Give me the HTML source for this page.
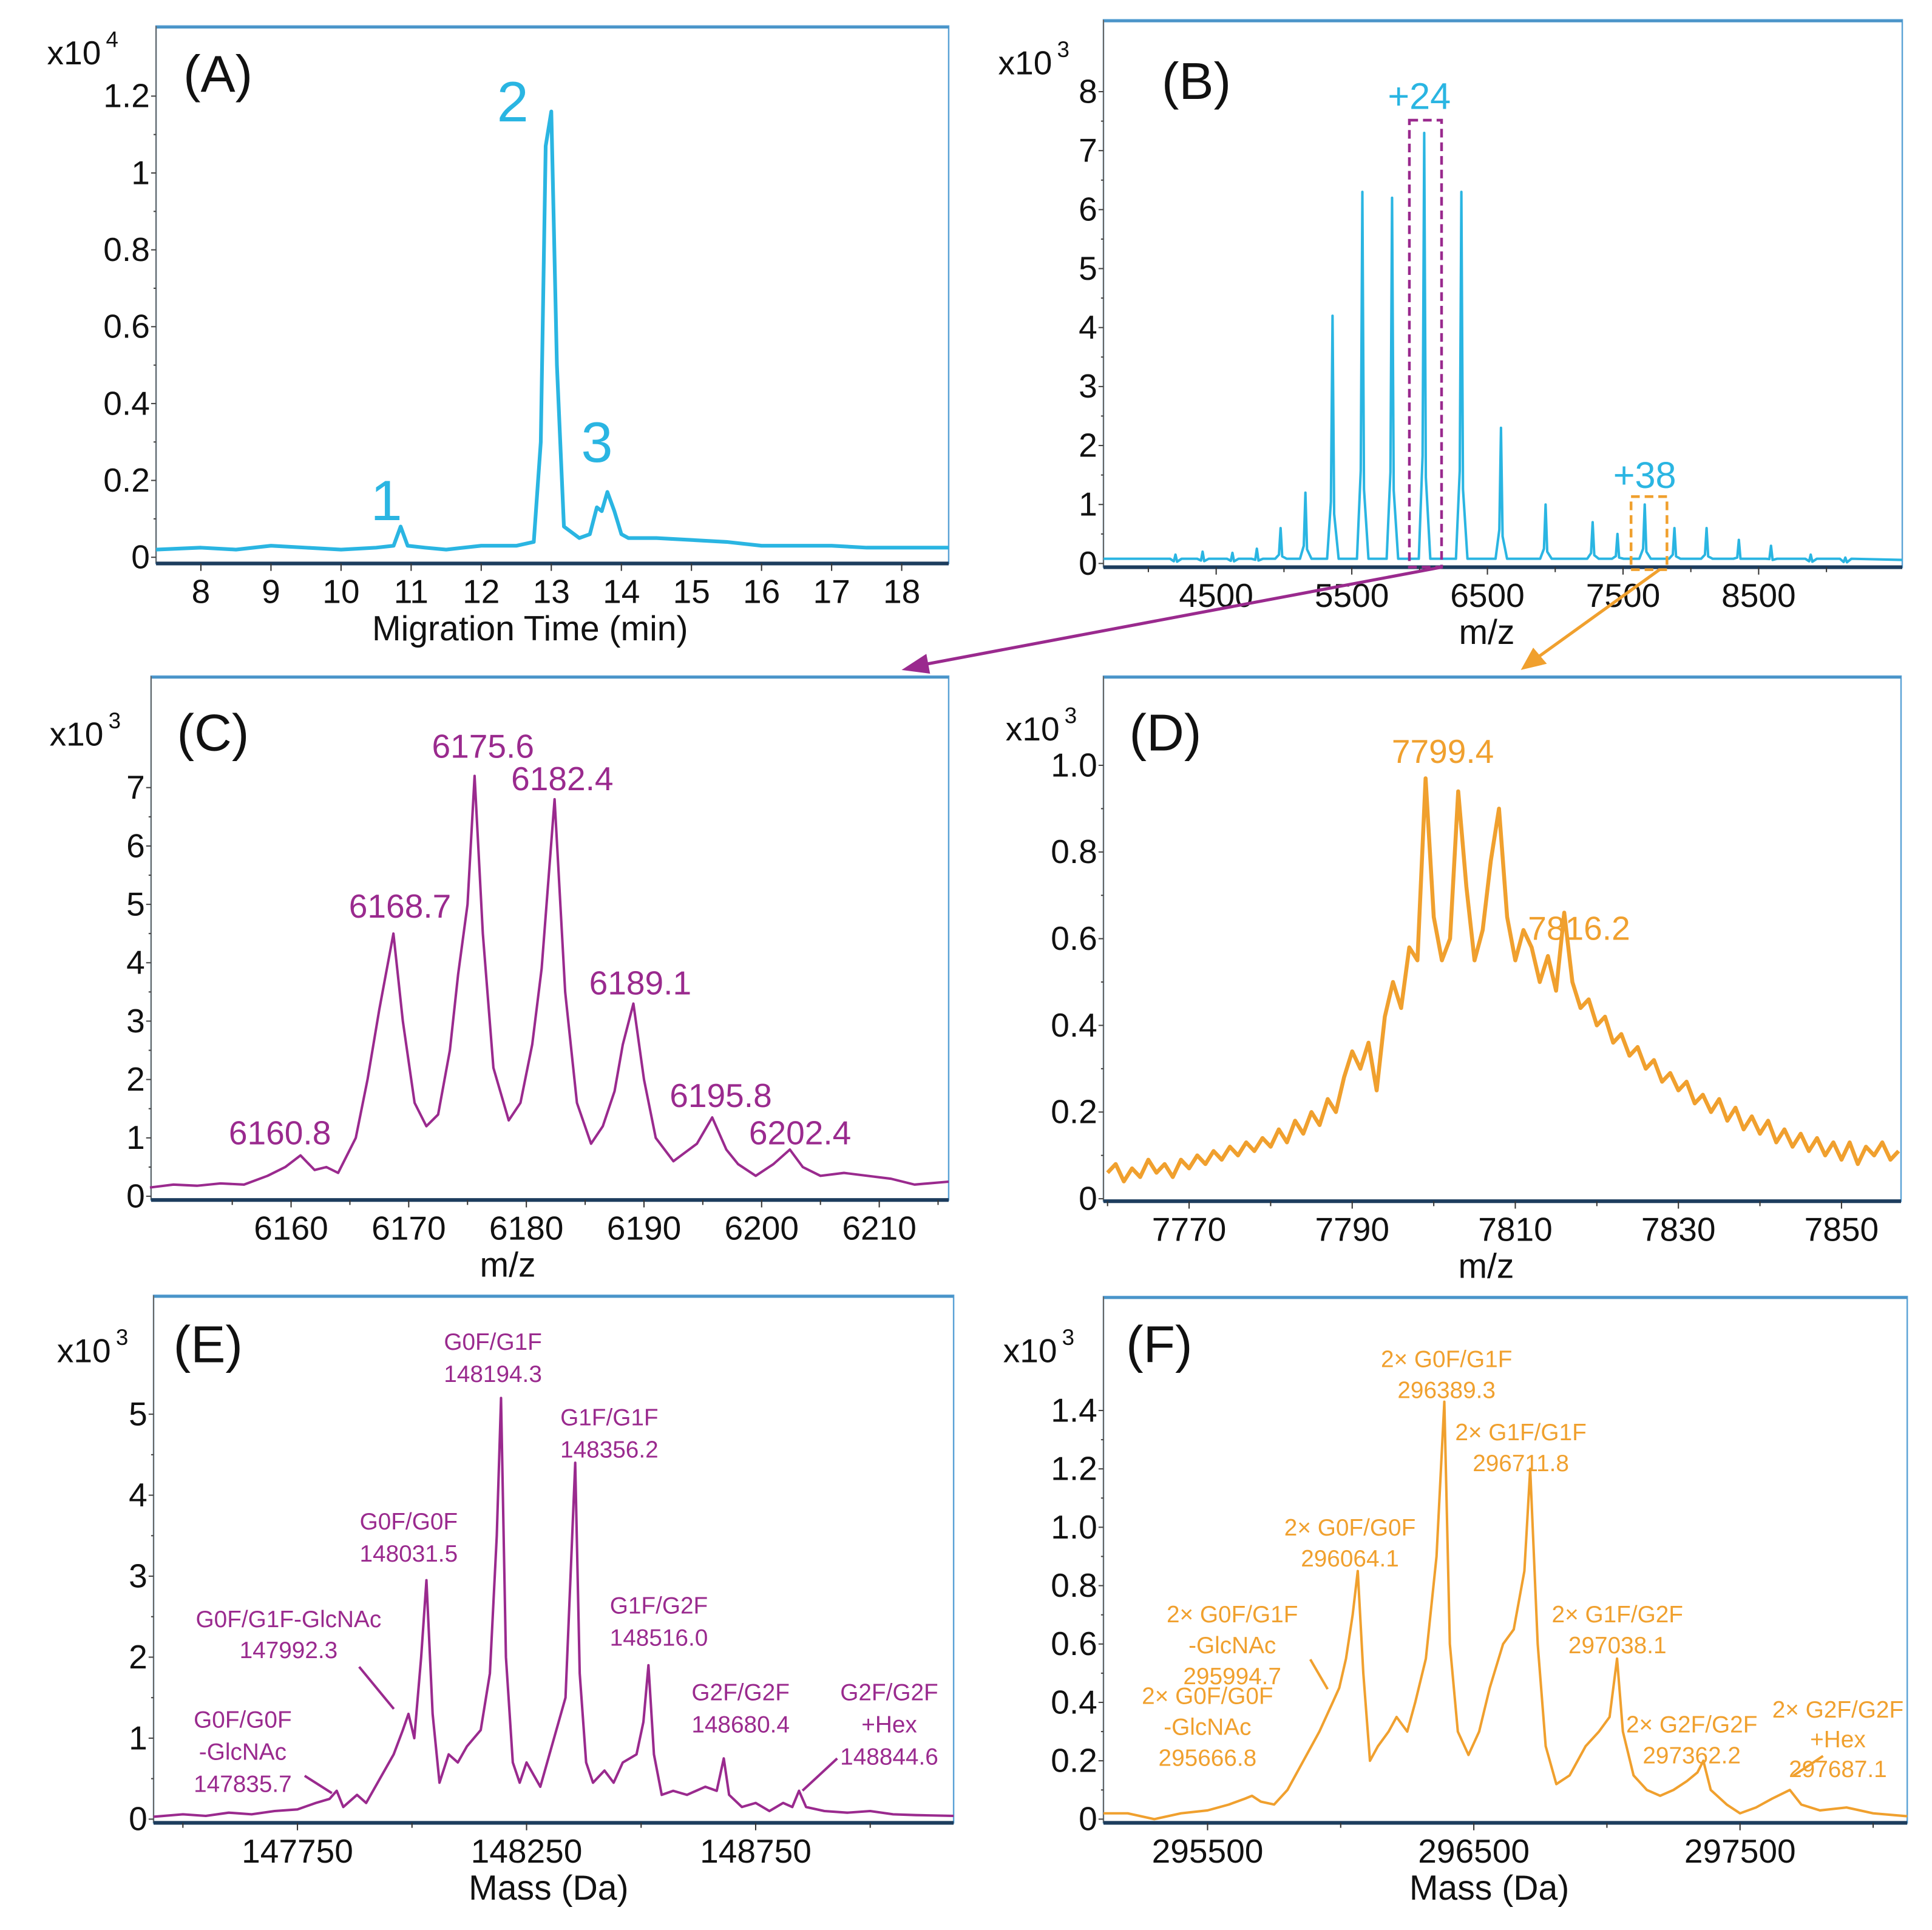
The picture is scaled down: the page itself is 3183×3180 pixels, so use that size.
<!DOCTYPE html>
<html><head><meta charset="utf-8"><style>
html,body{margin:0;padding:0;background:#fff;}
svg{display:block;font-family:"Liberation Sans",sans-serif;}
</style></head><body>
<svg id="fig" width="3183" height="3180" viewBox="0 0 1560 1558.5" xmlns="http://www.w3.org/2000/svg">
<rect width="1560" height="1558.5" fill="#fff"/>
</svg>
<script>
// ---- Panel A data ----
const aTime = [7.36,8,8.5,9,9.5,10,10.5,10.75,10.85,10.95,11.2,11.5,12,12.5,12.75,12.85,12.92,13.0,13.08,13.18,13.4,13.55,13.65,13.72,13.8,13.9,14,14.1,14.5,15,15.5,16,16.5,17,17.5,18,18.67];
const aSignal = [0.02,0.025,0.02,0.03,0.025,0.02,0.025,0.03,0.08,0.03,0.025,0.02,0.03,0.03,0.04,0.3,1.07,1.16,0.5,0.08,0.05,0.06,0.13,0.12,0.17,0.12,0.06,0.05,0.05,0.045,0.04,0.03,0.03,0.03,0.025,0.025,0.025];
const aYTicks = [0,0.2,0.4,0.6,0.8,1,1.2];
const aYTickLabels = ["0","0.2","0.4","0.6","0.8","1","1.2"];
const aXTicks = [8,9,10,11,12,13,14,15,16,17,18];
// ---- Panel B data ----
const bPeakMz = [4200,4400,4620,4800,4975,5158,5358,5578,5797,6034,6308,6600,6929,7276,7459,7660,7879,8116,8354,8591,8884,9139];
const bPeakInt = [0.15,0.2,0.18,0.25,0.6,1.2,4.2,6.3,6.2,7.3,6.3,2.3,1.0,0.7,0.5,1.0,0.6,0.6,0.4,0.3,0.15,0.1];
const bYTicks = [0,1,2,3,4,5,6,7,8];
const bXTicks = [4500,5500,6500,7500,8500];
// ---- Panel C data ----
const cMz = [6148,6150,6152,6154,6156,6158,6159.5,6160.8,6162,6163,6164,6165.5,6166.5,6167.5,6168.7,6169.5,6170.5,6171.5,6172.5,6173.5,6174.2,6175,6175.6,6176.3,6177.2,6178.5,6179.5,6180.5,6181.3,6182.4,6183.3,6184.3,6185.5,6186.5,6187.5,6188.2,6189.1,6190,6191,6192.5,6193.5,6194.5,6195.8,6197,6198,6199.5,6201,6202.4,6203.5,6205,6207,6209,6211,6213,6215.9];
const cInt = [0.15,0.2,0.18,0.22,0.2,0.35,0.5,0.7,0.45,0.5,0.4,1.0,2.0,3.2,4.5,3.0,1.6,1.2,1.4,2.5,3.8,5.0,7.2,4.5,2.2,1.3,1.6,2.6,3.9,6.8,3.5,1.6,0.9,1.2,1.8,2.6,3.3,2.0,1.0,0.6,0.75,0.9,1.35,0.8,0.55,0.35,0.55,0.8,0.5,0.35,0.4,0.35,0.3,0.2,0.25];
const cYTicks = [0,1,2,3,4,5,6,7];
const cXTicks = [6160,6170,6180,6190,6200,6210];
// ---- Panel D data (m/z 7760..7857 step 1) ----
const dStart = 7760;
const dInt = [.06,.08,.04,.07,.05,.09,.06,.08,.05,.09,
.07,.10,.08,.11,.09,.12,.10,.13,.11,.14,
.12,.16,.13,.18,.15,.20,.17,.23,.20,.28,
.34,.30,.36,.25,.42,.50,.44,.58,.55,.97,
.65,.55,.60,.94,.72,.55,.62,.78,.90,.65,
.55,.62,.58,.50,.56,.48,.66,.50,.44,.46,
.40,.42,.36,.38,.33,.35,.30,.32,.27,.29,
.25,.27,.22,.24,.20,.23,.18,.21,.16,.19,
.15,.18,.13,.16,.12,.15,.11,.14,.10,.13,
.09,.13,.08,.12,.10,.13,.09,.11];
const dYTicks = [0,0.2,0.4,0.6,0.8,1.0];
const dYTickLabels = ["0","0.2","0.4","0.6","0.8","1.0"];
const dXTicks = [7770,7790,7810,7830,7850];
// ---- Panel E data ----
const eMass = [147436,147500,147550,147600,147650,147700,147750,147790,147820,147835.7,147850,147880,147900,147930,147960,147980,147992.3,148005,148020,148031.5,148045,148060,148080,148100,148120,148150,148170,148185,148194.3,148205,148220,148235,148250,148265,148280,148300,148320,148335,148346,148356.2,148366,148380,148395,148420,148440,148460,148490,148505,148516,148528,148545,148570,148600,148640,148665,148680.4,148692,148720,148750,148780,148810,148830,148844.6,148860,148900,148950,149000,149050,149100,149182];
const eInt = [0.03,0.06,0.04,0.08,0.06,0.1,0.12,0.2,0.25,0.35,0.15,0.3,0.2,0.5,0.8,1.1,1.3,1.0,2.0,2.95,1.3,0.45,0.8,0.7,0.9,1.1,1.8,3.5,5.2,2.0,0.7,0.45,0.7,0.55,0.4,0.8,1.2,1.5,3.0,4.4,1.8,0.7,0.45,0.6,0.45,0.7,0.8,1.2,1.9,0.8,0.3,0.35,0.3,0.4,0.35,0.75,0.3,0.15,0.2,0.1,0.2,0.15,0.35,0.15,0.1,0.08,0.1,0.06,0.05,0.04];
const eYTicks = [0,1,2,3,4,5];
const eXTicks = [147750,148250,148750];
// ---- Panel F data ----
const fMass = [295109,295200,295300,295400,295500,295580,295640,295666.8,295700,295750,295800,295860,295920,295970,295994.7,296020,296045,296064.1,296085,296110,296140,296180,296210,296250,296280,296320,296360,296389.3,296410,296440,296480,296520,296560,296610,296650,296690,296711.8,296740,296770,296810,296860,296920,296970,297010,297038.1,297060,297100,297150,297200,297250,297300,297340,297362.2,297390,297450,297500,297560,297620,297687.1,297730,297800,297900,298000,298128];
const fInt = [0.02,0.02,0.0,0.02,0.03,0.05,0.07,0.08,0.06,0.05,0.1,0.2,0.3,0.4,0.45,0.55,0.7,0.85,0.5,0.2,0.25,0.3,0.35,0.3,0.4,0.55,0.9,1.43,0.6,0.3,0.22,0.3,0.45,0.6,0.65,0.85,1.2,0.6,0.25,0.12,0.15,0.25,0.3,0.35,0.55,0.3,0.15,0.1,0.08,0.1,0.13,0.16,0.2,0.1,0.05,0.02,0.04,0.07,0.1,0.05,0.03,0.04,0.02,0.01];
const fYTicks = [0,0.2,0.4,0.6,0.8,1.0,1.2,1.4];
const fYTickLabels = ["0","0.2","0.4","0.6","0.8","1.0","1.2","1.4"];
const fXTicks = [295500,296500,297500];

const NS = "http://www.w3.org/2000/svg";
const svg = document.getElementById("fig");
function mk(tag, attrs, parent) {
  const e = document.createElementNS(NS, tag);
  for (const k in attrs) e.setAttribute(k, attrs[k]);
  (parent || svg).appendChild(e);
  return e;
}
function txt(s, x, y, size, fill, anchor, parent) {
  const t = mk("text", {x: x, y: y, "font-size": size, fill: fill, "text-anchor": anchor || "middle"}, parent);
  t.textContent = s;
  return t;
}
const CYAN = "#2ab5e2", MAG = "#9a2a8e", ORG = "#f0a02e";

function panel(cfg) {
  const g = mk("g", {});
  
  
  const sx = v => cfg.L + (v - cfg.x0) / (cfg.x1 - cfg.x0) * (cfg.R - cfg.L);
  const sy = v => cfg.y0px + (v - 0) * (cfg.ytop - cfg.y0px) / cfg.yTopVal;
  cfg.sx = sx; cfg.sy = sy;
  const fr = mk("rect", {x: cfg.L, y: cfg.T, width: cfg.R - cfg.L, height: cfg.B - cfg.T, fill: "none", stroke: "#5aa2d6", "stroke-width": 1.2}, g);
  
  
  mk("line", {x1: cfg.L, y1: cfg.T + 1, x2: cfg.R, y2: cfg.T + 1, stroke: "#4a94c8", "stroke-width": 2}, g);
  const ya = mk("line", {x1: cfg.L, y1: cfg.T, x2: cfg.L, y2: cfg.B, stroke: "#666", "stroke-width": 1}, g);
  
  
  cfg.yTicks.forEach((v, i) => {
    const y = sy(v);
    mk("line", {x1: cfg.L - 4, y1: y, x2: cfg.L, y2: y, stroke: "#444", "stroke-width": 1}, g);
    if (i < cfg.yTicks.length - 1) {
      const ym = sy((v + cfg.yTicks[i + 1]) / 2);
      mk("line", {x1: cfg.L - 2, y1: ym, x2: cfg.L, y2: ym, stroke: "#444", "stroke-width": 1}, g);
    }
    const t = txt(cfg.yLabels ? cfg.yLabels[i] : String(v), cfg.L - 5, y + 9, 27, "#111", "end", g);
    
    
  });
  const xa = mk("line", {x1: cfg.L, y1: cfg.B, x2: cfg.R, y2: cfg.B, stroke: "#1d3d5e", "stroke-width": 3}, g);
  
  
  cfg.xTicks.forEach(v => {
    const x = sx(v);
    mk("line", {x1: x, y1: cfg.B, x2: x, y2: cfg.B + 6, stroke: "#333", "stroke-width": 1}, g);
    const t = txt(String(v), x, cfg.B + 32, 27, "#111", "middle", g);
    
    
  });
  if (cfg.xMinor) cfg.xMinor.forEach(v => {
    const x = sx(v);
    mk("line", {x1: x, y1: cfg.B, x2: x, y2: cfg.B + 4, stroke: "#333", "stroke-width": 1}, g);
  });
  const xt = txt(cfg.xTitle, (cfg.L + cfg.R) / 2 + (cfg.xTitleDx || 0), cfg.B + 62, 28, "#111", "middle", g);
  
  
  const pl = txt(cfg.letter, cfg.letterX, cfg.letterY, 42, "#111", "middle", g);
  
  
  const m = mk("text", {x: cfg.multX, y: cfg.multY, "font-size": 27, fill: "#111"}, g);
  
  
  m.textContent = "x10";
  const sup = mk("tspan", {dx: 4, dy: -14, "font-size": 18}, m);
  sup.textContent = cfg.exp;
  return g;
}
function trace(cfg, xs, ys, color, sw, name) {
  const pts = xs.map((x, i) => cfg.sx(x).toFixed(2) + "," + cfg.sy(ys[i]).toFixed(2)).join(" ");
  const p = mk("polyline", {points: pts, fill: "none", stroke: color, "stroke-width": sw, "stroke-linejoin": "round"});
  
  
  return p;
}
function ann(lines, x, y, size, color, lh) {
  lines.forEach((s, i) => {
    const t = txt(s, x, y + i * lh, size, color, "middle");
    
    
  });
}
function leader(x1, y1, x2, y2, color) {
  const l = mk("line", {x1: x1, y1: y1, x2: x2, y2: y2, stroke: color, "stroke-width": 2});
  
  
}

const A = {name: "panel-a", L: 126, R: 766, T: 21, B: 455, x0: 7.36, x1: 18.67, y0px: 450, ytop: 77.6, yTopVal: 1.2,
  yTicks: aYTicks, yLabels: aYTickLabels, xTicks: aXTicks, xTitle: "Migration Time (min)", xTitleDx: -18,
  letter: "(A)", letterX: 176, letterY: 74, multX: 38, multY: 52, exp: "4"};
panel(A);
trace(A, aTime, aSignal, CYAN, 3, "electropherogram-trace");
txt("1", 312, 420, 46, CYAN);
txt("2", 414, 98, 46, CYAN);
txt("3", 482, 373, 46, CYAN);

const Bp = {name: "panel-b", L: 891, R: 1536, T: 16, B: 458, x0: 3669, x1: 9559, y0px: 455, ytop: 74, yTopVal: 8,
  yTicks: bYTicks, xTicks: bXTicks, xMinor: [4000,5000,6000,7000,8000,9000], xTitle: "m/z", xTitleDx: -13,
  letter: "(B)", letterX: 966, letterY: 80, multX: 806, multY: 60, exp: "3"};
panel(Bp);
(function () {
  const xs = [3669], ys = [0.08];
  bPeakMz.forEach((m, i) => {
    xs.push(m - 40, m - 12, m, m + 12, m + 45);
    ys.push(0.08, bPeakInt[i] * 0.25, bPeakInt[i], bPeakInt[i] * 0.2, 0.08);
  });
  xs.push(9559); ys.push(0.06);
  trace(Bp, xs, ys, CYAN, 2, "mass-spectrum-trace");
})();
mk("rect", {x: 1138, y: 97, width: 26, height: 361, fill: "none", stroke: MAG, "stroke-width": 2.2, "stroke-dasharray": "7,4"});
mk("rect", {x: 1317, y: 401, width: 29, height: 59, fill: "none", stroke: ORG, "stroke-width": 2.2, "stroke-dasharray": "7,4"});
txt("+24", 1146, 88, 30, CYAN);
txt("+38", 1328, 394, 30, CYAN);
mk("line", {x1: 1164, y1: 458, x2: 744, y2: 537, stroke: MAG, "stroke-width": 2.5});
mk("polygon", {points: "728,541 748,528 751,544", fill: MAG});
mk("line", {x1: 1340, y1: 460, x2: 1240, y2: 532, stroke: ORG, "stroke-width": 2.5});
mk("polygon", {points: "1228,541 1238,523 1249,536", fill: ORG});

const Cp = {name: "panel-c", L: 122, R: 766, T: 546, B: 969, x0: 6148.1, x1: 6215.9, y0px: 966, ytop: 636, yTopVal: 7,
  yTicks: cYTicks, xTicks: cXTicks, xMinor: [6155,6165,6175,6185,6195,6205,6215], xTitle: "m/z", xTitleDx: -34,
  letter: "(C)", letterX: 172, letterY: 606, multX: 40, multY: 602, exp: "3"};
panel(Cp);
trace(Cp, cMz, cInt, MAG, 2, "charge-24-trace");
ann(["6175.6"], 390, 612, 27, MAG, 0);
ann(["6182.4"], 454, 638, 27, MAG, 0);
ann(["6168.7"], 323, 741, 27, MAG, 0);
ann(["6189.1"], 517, 803, 27, MAG, 0);
ann(["6160.8"], 226, 924, 27, MAG, 0);
ann(["6195.8"], 582, 894, 27, MAG, 0);
ann(["6202.4"], 646, 924, 27, MAG, 0);

const Dp = {name: "panel-d", L: 891, R: 1535, T: 546, B: 970, x0: 7759.5, x1: 7857.3, y0px: 968, ytop: 618, yTopVal: 1.0,
  yTicks: dYTicks, yLabels: dYTickLabels, xTicks: dXTicks, xMinor: [7760,7780,7800,7820,7840], xTitle: "m/z", xTitleDx: -13,
  letter: "(D)", letterX: 941, letterY: 606, multX: 812, multY: 598, exp: "3"};
panel(Dp);
trace(Dp, dInt.map((v, i) => dStart + i), dInt, ORG, 3.2, "charge-38-trace");
ann(["7799.4"], 1165, 616, 27, ORG, 0);
ann(["7816.2"], 1275, 759, 27, ORG, 0);

const Ep = {name: "panel-e", L: 124, R: 770, T: 1046, B: 1472, x0: 147436, x1: 149182, y0px: 1469, ytop: 1142, yTopVal: 5,
  yTicks: eYTicks, xTicks: eXTicks, xMinor: [147500,148000,148500,149000], xTitle: "Mass (Da)", xTitleDx: -4,
  letter: "(E)", letterX: 168, letterY: 1100, multX: 46, multY: 1100, exp: "3"};
panel(Ep);
trace(Ep, eMass, eInt, MAG, 2, "deconvoluted-monomer-trace");
ann(["G0F/G1F", "148194.3"], 398, 1090, 19, MAG, 26);
ann(["G1F/G1F", "148356.2"], 492, 1151, 19, MAG, 26);
ann(["G0F/G0F", "148031.5"], 330, 1235, 19, MAG, 26);
ann(["G0F/G1F-GlcNAc", "147992.3"], 233, 1314, 19, MAG, 25);
ann(["G1F/G2F", "148516.0"], 532, 1303, 19, MAG, 26);
ann(["G2F/G2F", "148680.4"], 598, 1373, 19, MAG, 26);
ann(["G2F/G2F", "+Hex", "148844.6"], 718, 1373, 19, MAG, 26);
ann(["G0F/G0F", "-GlcNAc", "147835.7"], 196, 1395, 19, MAG, 26);
leader(290, 1346, 318, 1380, MAG);
leader(246, 1434, 268, 1448, MAG);
leader(676, 1420, 648, 1446, MAG);

const Fp = {name: "panel-f", L: 891, R: 1540, T: 1047, B: 1472, x0: 295109, x1: 298128, y0px: 1469, ytop: 1139, yTopVal: 1.4,
  yTicks: fYTicks, yLabels: fYTickLabels, xTicks: fXTicks, xMinor: [296000,297000,298000], xTitle: "Mass (Da)", xTitleDx: -13,
  letter: "(F)", letterX: 936, letterY: 1100, multX: 810, multY: 1100, exp: "3"};
panel(Fp);
trace(Fp, fMass, fInt, ORG, 2, "deconvoluted-dimer-trace");
ann(["2× G0F/G1F", "296389.3"], 1168, 1104, 19, ORG, 25);
ann(["2× G1F/G1F", "296711.8"], 1228, 1163, 19, ORG, 25);
ann(["2× G0F/G0F", "296064.1"], 1090, 1240, 19, ORG, 25);
ann(["2× G0F/G1F", "-GlcNAc", "295994.7"], 995, 1310, 19, ORG, 25);
ann(["2× G1F/G2F", "297038.1"], 1306, 1310, 19, ORG, 25);
ann(["2× G0F/G0F", "-GlcNAc", "295666.8"], 975, 1376, 19, ORG, 25);
ann(["2× G2F/G2F", "297362.2"], 1366, 1399, 19, ORG, 25);
ann(["2× G2F/G2F", "+Hex", "297687.1"], 1484, 1387, 19, ORG, 24);
leader(1058, 1340, 1072, 1364, ORG);
leader(1448, 1434, 1472, 1418, ORG);
</script>
</body></html>
